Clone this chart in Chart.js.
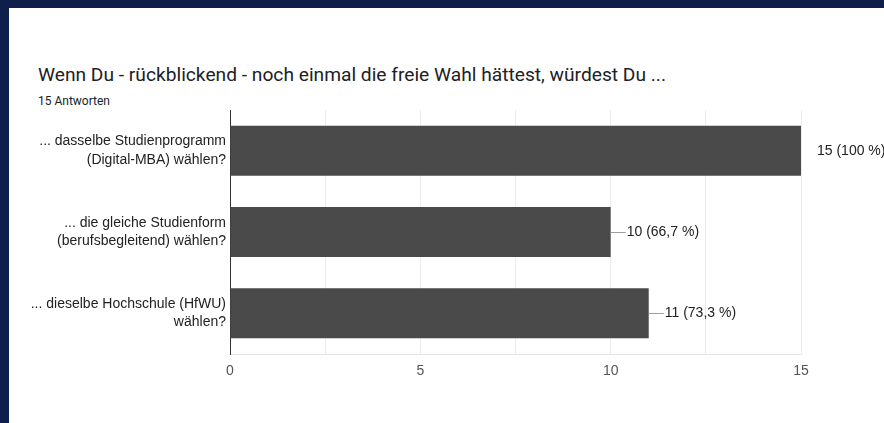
<!DOCTYPE html>
<html>
<head>
<meta charset="utf-8">
<script src="https://cdn.jsdelivr.net/npm/chart.js@4.4.1/dist/chart.umd.min.js"></script>
<style>
  html, body { margin: 0; padding: 0; width: 884px; height: 423px; overflow: hidden; background: #0f1f4b; }
  #card { position: absolute; left: 9px; top: 8px; right: 0; bottom: 0; background: #ffffff; }
  #title { position: absolute; left: 38px; top: 63px; font-family: Roboto, "Liberation Sans", Arial, sans-serif; font-size: 19.2px; color: #202124; white-space: nowrap; }
  #sub { position: absolute; left: 38px; top: 94px; font-family: Roboto, "Liberation Sans", Arial, sans-serif; font-size: 12px; color: #202124; white-space: nowrap; }
  #wrap { position: absolute; left: 0; top: 0; width: 884px; height: 423px; }
</style>
</head>
<body>
<div id="card"></div>
<div id="title">Wenn Du - rückblickend - noch einmal die freie Wahl hättest, würdest Du ...</div>
<div id="sub">15 Antworten</div>
<div id="wrap"><canvas id="c" width="884" height="423"></canvas></div>
<script>
const categories = [
  ["... dasselbe Studienprogramm", "(Digital-MBA) wählen?"],
  ["... die gleiche Studienform", "(berufsbegleitend) wählen?"],
  ["... dieselbe Hochschule (HfWU)", "wählen?"]
];
const values = [15, 10, 11];
const valueLabels = ["15 (100 %)", "10 (66,7 %)", "11 (73,3 %)"];
const tickLabels = ["0", "5", "10", "15"];
const totalResponses = 15;

const labelPlugin = {
  id: 'valueLabels',
  afterDatasetsDraw(chart) {
    const ctx = chart.ctx;
    const meta = chart.getDatasetMeta(0);
    ctx.save();
    ctx.font = '14px "Liberation Sans", Arial, sans-serif';
    ctx.textBaseline = 'middle';
    ctx.textAlign = 'left';
    meta.data.forEach((bar, i) => {
      const x = bar.x, y = bar.y;
      if (values[i] < totalResponses) {
        ctx.strokeStyle = '#9e9e9e';
        ctx.lineWidth = 1;
        ctx.beginPath();
        ctx.moveTo(x, Math.round(y) + 0.5);
        ctx.lineTo(x + 15, Math.round(y) + 0.5);
        ctx.stroke();
      }
      ctx.fillStyle = '#222222';
      ctx.fillText(valueLabels[i], x + 16, y);
    });
    ctx.restore();
  }
};

new Chart(document.getElementById('c'), {
  type: 'bar',
  data: {
    labels: categories,
    datasets: [{
      data: values,
      backgroundColor: '#4a4a4a',
      borderWidth: 0,
      barPercentage: 0.615,
      categoryPercentage: 1.0
    }]
  },
  options: {
    indexAxis: 'y',
    responsive: false,
    animation: false,
    events: [],
    layout: { padding: { left: 0, right: 83, top: 110, bottom: 39 } },
    plugins: { legend: { display: false }, tooltip: { enabled: false } },
    scales: {
      x: {
        min: 0, max: 15,
        ticks: {
          stepSize: 2.5,
          autoSkip: false,
          maxRotation: 0,
          padding: 9,
          color: '#555555',
          font: { family: '"Liberation Sans", Arial, sans-serif', size: 14 },
          callback: (v) => {
            const s = String(v);
            return tickLabels.includes(s) ? s : '';
          }
        },
        grid: { color: '#ebebeb', drawTicks: false },
        border: { color: '#e6e6e6' },
        afterFit: (s) => { s.height = 30; }
      },
      y: {
        ticks: {
          padding: 4,
          color: '#222222',
          font: { family: '"Liberation Sans", Arial, sans-serif', size: 14, lineHeight: 1.3 }
        },
        grid: { display: false, drawTicks: false },
        border: { color: '#333333', width: 1 },
        afterFit: (s) => { s.width = 230; }
      }
    }
  },
  plugins: [labelPlugin]
});
</script>
</body>
</html>
